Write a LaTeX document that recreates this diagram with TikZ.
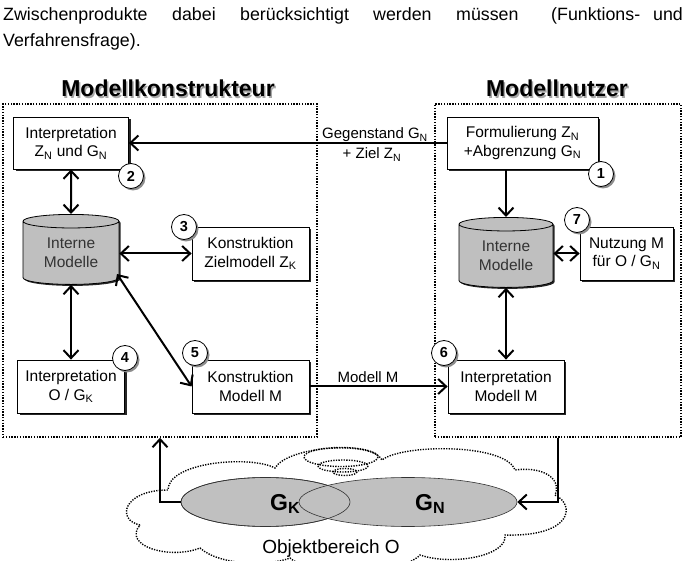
\documentclass[tikz,border=0pt]{standalone}
\usepackage{fontspec}
\setmainfont{Liberation Sans}
\usetikzlibrary{shapes.geometric,arrows.meta,shadows}
\definecolor{cylgray}{HTML}{BFBFBF}
\definecolor{ellgray}{HTML}{C0C0C0}
\begin{document}
\begin{tikzpicture}[x=1pt,y=-1pt,
  every node/.style={inner sep=0pt},
  para/.style={anchor=base west, font=\fontsize{17.8}{21}\selectfont},
  title/.style={anchor=base, font=\bfseries\fontsize{23}{23}\selectfont},
  box/.style={draw, line width=0.8pt, fill=white, align=center,
    font=\fontsize{15.5}{18.5}\selectfont,
    drop shadow={shadow xshift=2.2pt, shadow yshift=-2.2pt, fill=black!85, opacity=1}},
  num/.style={circle, draw, line width=0.8pt, fill=white, minimum size=25pt,
    font=\bfseries\fontsize{14.5}{14.5}\selectfont,
    drop shadow={shadow xshift=2pt, shadow yshift=-2pt, fill=black!45, opacity=1}},
  cyl/.style={cylinder, shape border rotate=90, aspect=0.25, draw, line width=0.8pt,
    fill=cylgray, align=center, text=black!80,
    font=\fontsize{15.5}{19}\selectfont,
    drop shadow={shadow xshift=1.5pt, shadow yshift=-1.5pt, fill=black!85, opacity=1}},
  dotbox/.style={draw, line width=1.6pt, dash pattern=on 1.4pt off 1.4pt},
  lab/.style={font=\fontsize{15}{17}\selectfont},
  arr/.style={line width=2pt, -{Straight Barb[length=8pt,width=15pt]}},
  darr/.style={line width=2pt, {Straight Barb[length=8pt,width=15pt]}-{Straight Barb[length=8pt,width=15pt]}},
  ell/.style={ellipse, line width=0.6pt, draw=black!80},
  cloudline/.style={line width=1.4pt, dash pattern=on 1.3pt off 1.3pt}
]
\useasboundingbox (0,0) rectangle (686,561);

% paragraph text
\node[para] (w1) at (3,21) {Zwischenprodukte};
\node[para] (w2) at (172,21) {dabei};
\node[para] (w3) at (240,21) {berücksichtigt};
\node[para] (w4) at (373,21) {werden};
\node[para] (w5) at (456,21) {müssen};
\node[para] (w6) at (551,21) {(Funktions-};
\node[para, anchor=base east] (w7) at (683,21) {und};
\node[para] (w8) at (3,47) {Verfahrensfrage).};

% titles
\node[title, text=black!35] (t1s) at (169.5,98.5) {Modellkonstrukteur};
\node[title] (t1) at (168,97) {Modellkonstrukteur};
\node[title, text=black!35] (t2s) at (558.5,98.5) {Modellnutzer};
\node[title] (t2) at (557,97) {Modellnutzer};

% dotted frames
\node[dotbox, minimum width=314pt, minimum height=333pt] (boxL) at (160,270.5) {};
\node[dotbox, minimum width=246pt, minimum height=333pt] (boxR) at (558,270.5) {};

% cloud
\draw[cloudline] (140,525)
  .. controls (116,520) and (123,490) .. (168,490)
  .. controls (168,462) and (250,455) .. (275,468)
  .. controls (288,446) and (372,440) .. (382,460)
  .. controls (402,444) and (505,443) .. (515,470)
  .. controls (545,466) and (562,480) .. (555,495)
  .. controls (576,505) and (572,537) .. (505,535)
  .. controls (508,556) and (452,566) .. (420,555)
  .. controls (400,576) and (310,576) .. (290,558)
  .. controls (270,566) and (220,566) .. (200,548)
  .. controls (170,560) and (122,546) .. (140,525) -- cycle;
\draw[cloudline] (341,457) ellipse [x radius=37, y radius=9.5];
\draw[cloudline] (343,466) ellipse [x radius=25, y radius=6];
\draw[cloudline] (345,472) ellipse [x radius=12, y radius=3.5];

% ellipses G_K, G_N
\node[ell, fill=ellgray, minimum width=169pt, minimum height=49pt] (eK) at (265.5,502) {};
\node[ell, fill=ellgray, minimum width=218pt, minimum height=49pt] (eN) at (408,502) {};
\node[ell, minimum width=169pt, minimum height=49pt] (eKo) at (265.5,502) {};
\node[anchor=base west, font=\bfseries\fontsize{23}{23}\selectfont] (gK) at (270,510) {G\textsubscript{K}};
\node[anchor=base west, font=\bfseries\fontsize{23}{23}\selectfont] (gN) at (415,510) {G\textsubscript{N}};
\node[anchor=base, font=\fontsize{19}{22}\selectfont] (obj) at (331,553) {Objektbereich O};

% boxes
\node[box, minimum width=115pt, minimum height=52pt] (iz) at (71,143) {Interpretation\\Z\textsubscript{N} und G\textsubscript{N}};
\node[box, minimum width=151pt, minimum height=52pt] (fz) at (522.5,143) {Formulierung Z\textsubscript{N}\\+Abgrenzung G\textsubscript{N}};
\node[box, minimum width=117pt, minimum height=53pt] (kz) at (250.5,253.5) {Konstruktion\\Zielmodell Z\textsubscript{K}};
\node[box, minimum width=93pt, minimum height=53pt] (nu) at (626.5,253.5) {Nutzung M\\für O / G\textsubscript{N}};
\node[box, minimum width=107pt, minimum height=53pt] (io) at (71,386.5) {Interpretation\\O / G\textsubscript{K}};
\node[box, minimum width=117pt, minimum height=53pt] (km) at (250.5,386.5) {Konstruktion\\Modell M};
\node[box, minimum width=116pt, minimum height=53pt] (im) at (506,386.5) {Interpretation\\Modell M};

% cylinders
\node[cyl, minimum width=96pt, minimum height=70pt] (cylL) at (71,253) {Interne\\Modelle};
\node[cyl, minimum width=94pt, minimum height=70pt] (cylR) at (506,256) {Interne\\Modelle};

% numbers
\node[num] (n1) at (601,174) {1};
\node[num] (n2) at (131,176) {2};
\node[num] (n3) at (184,227) {3};
\node[num] (n4) at (125,358) {4};
\node[num] (n5) at (195,353) {5};
\node[num] (n6) at (444,353) {6};
\node[num] (n7) at (577,220) {7};

% connectors
\draw[arr] (fz.west) -- (iz.east);
\node[lab, anchor=base] (lg1) at (375,139) {Gegenstand G\textsubscript{N}};
\node[lab, anchor=base] (lg2) at (372,159) {+ Ziel Z\textsubscript{N}};
\draw[darr] (iz.south) -- (cylL.north);
\draw[darr] (cylL.east |- kz.west) -- (kz.west);
\draw[darr] (cylL.south) -- (io.north);
\coordinate (cl) at (117,274);
\draw[darr] (cl) -- (km.west);
\draw[arr] (km.east) -- (im.west);
\node[lab, anchor=base] (lm) at (368,383) {Modell M};
\draw[arr] (cylR.north |- fz.south) -- (cylR.north);
\draw[darr] (cylR.east |- nu.west) -- (nu.west);
\draw[darr] (cylR.south) -- (im.north);
\draw[arr] (eK.west) -- (eK.west -| boxL.south) -- (boxL.south);
\draw[arr] (boxR.south) -- (boxR.south |- eN.east) -- (eN.east);
\end{tikzpicture}
\end{document}
